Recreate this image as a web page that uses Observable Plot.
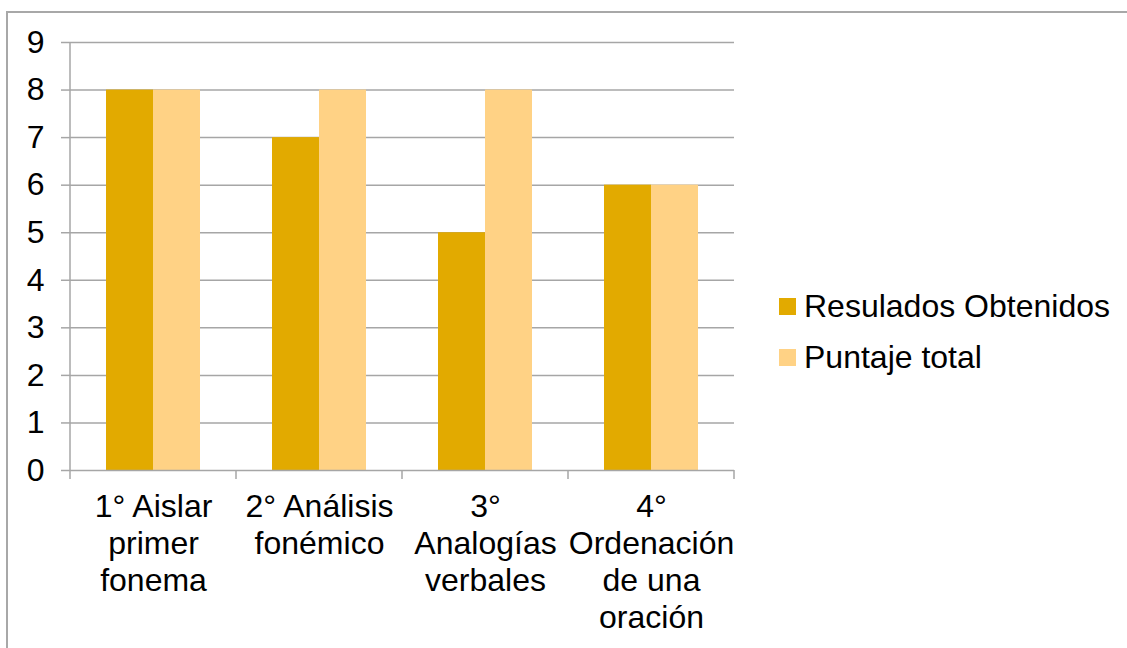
<!DOCTYPE html>
<html><head><meta charset="utf-8">
<script src="https://cdn.jsdelivr.net/npm/d3@7"></script>
<script src="https://cdn.jsdelivr.net/npm/@observablehq/plot@0.6"></script>
<style>
html,body{margin:0;padding:0;width:1127px;height:648px;overflow:hidden;background:#fff;font-family:"Liberation Sans",Arial,sans-serif;}
#frame{position:absolute;left:6px;top:11px;width:2000px;height:2000px;border:2px solid #a8a8a8;box-sizing:border-box;}
#chart{position:absolute;left:0;top:0;}
#legend{position:absolute;left:779px;top:0;font-size:32px;color:#000;}
.li{position:absolute;left:0;white-space:nowrap;height:40px;}
.sw{position:absolute;left:0;width:17px;height:17px;}
.lt{position:absolute;left:25px;line-height:1;}
</style></head>
<body>
<div id="frame"></div>
<div id="chart"></div>
<div id="legend"></div>
<script>
const categories = ["1° Aislar\nprimer\nfonema", "2° Análisis\nfonémico", "3°\nAnalogías\nverbales", "4°\nOrdenación\nde una\noración"];
const series = ["Resulados Obtenidos", "Puntaje total"];
const obtenidos = [8, 7, 5, 6];
const total = [8, 8, 8, 6];
const yTicks = [0, 1, 2, 3, 4, 5, 6, 7, 8, 9];
const colors = ["#E2AA00", "#FFD285"];

const data = [];
categories.forEach((c, i) => {
  data.push({cat: c, series: series[0], value: obtenidos[i]});
  data.push({cat: c, series: series[1], value: total[i]});
});

const grid = "#a6a6a6";
const chart = Plot.plot({
  width: 1127, height: 648,
  marginLeft: 68, marginRight: 392, marginTop: 42, marginBottom: 178,
  style: {fontFamily: '"Liberation Sans", Arial, sans-serif', fontSize: "32px", color: "#000", background: "transparent"},
  fx: {domain: categories, padding: 0, axis: null, label: null},
  x: {domain: series, paddingInner: 0, paddingOuter: 0.75, axis: null},
  y: {domain: [0, 9], axis: null, label: null},
  color: {domain: series, range: colors},
  marks: [
    Plot.gridY(yTicks.filter(d => d > 0), {stroke: grid, strokeOpacity: 1, strokeWidth: 1.5}),
    Plot.barY(data, {fx: "cat", x: "series", y: "value", fill: "series"}),
    Plot.ruleY([0], {stroke: grid, strokeWidth: 1.5}),
    Plot.axisY(yTicks, {anchor: "left", tickSize: 9, tickPadding: 17, stroke: grid, strokeWidth: 1.5, strokeOpacity: 1, fontSize: 32, label: null}),
    Plot.axisFx({anchor: "bottom", tickSize: 0, tickPadding: 20, fontSize: 32, lineHeight: 1.16, label: null})
  ]
});
document.getElementById("chart").appendChild(chart);

// vertical axis line and category boundary ticks from the library's scales
const fx = chart.scale("fx");
const y = chart.scale("y");
const svg = d3.select(chart.tagName.toLowerCase() === "svg" ? chart : chart.querySelector("svg"));
const y0 = y.apply(0), y9 = y.apply(9);
const bounds = categories.map(c => fx.apply(c)).concat([fx.apply(categories[categories.length - 1]) + fx.bandwidth]);
const g = svg.append("g").attr("stroke", grid).attr("stroke-width", 1.5);
g.append("line").attr("x1", bounds[0]).attr("x2", bounds[0]).attr("y1", y9).attr("y2", y0 + 9);
bounds.slice(1).forEach(b => g.append("line").attr("x1", b).attr("x2", b).attr("y1", y0).attr("y2", y0 + 9));

// legend
const legend = document.getElementById("legend");
const rowTops = [298, 349];
series.forEach((s, i) => {
  const row = document.createElement("div");
  row.className = "li";
  row.style.top = rowTops[i] + "px";
  const sw = document.createElement("div");
  sw.className = "sw"; sw.style.background = colors[i];
  const t = document.createElement("div");
  t.className = "lt"; t.textContent = s; t.style.top = "-8px";
  row.appendChild(sw); row.appendChild(t);
  legend.appendChild(row);
});
</script>
</body></html>
